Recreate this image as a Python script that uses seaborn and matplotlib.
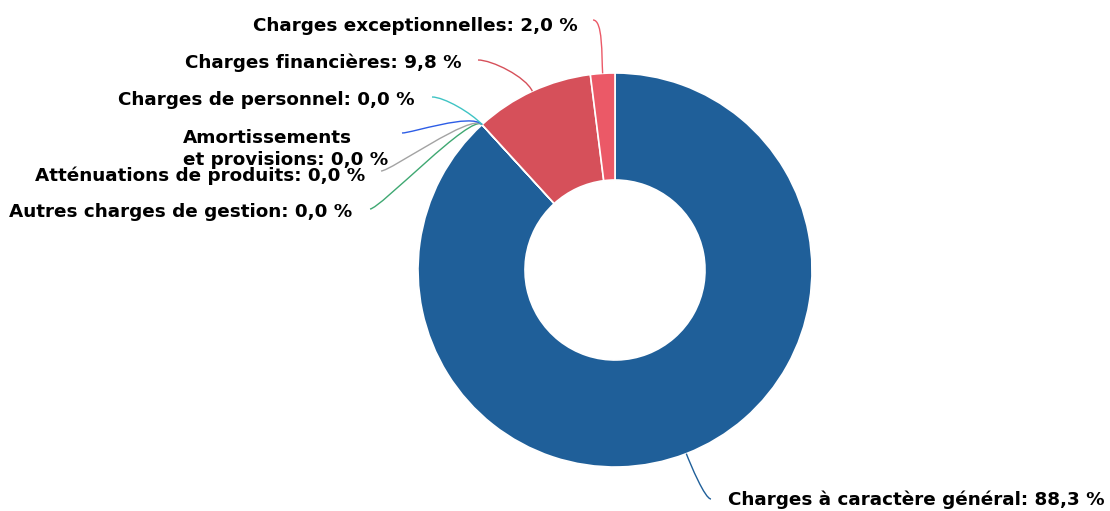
import numpy as np
import matplotlib
matplotlib.use("Agg")
import matplotlib.pyplot as plt
from matplotlib.path import Path
from matplotlib.patches import PathPatch
import seaborn as sns

sns.set_theme(style="white")
plt.rcParams['font.family'] = ['DejaVu Sans']

# ---- data ----
categories = [
    "Charges à caractère général",
    "Autres charges de gestion",
    "Atténuations de produits",
    "Amortissements\net provisions",
    "Charges de personnel",
    "Charges financières",
    "Charges exceptionnelles",
]
values = [88.3, 0.0, 0.0, 0.0, 0.0, 9.8, 2.0]
colors = ["#1f5f99", "#3fa872", "#a3a3a3", "#2d5de6", "#3fc4c4", "#d6505a", "#eb5967"]

# ---- layout (pixel coordinates, y measured from top) ----
W, H = 1110, 511
CX, CY = 615, 270
R_OUT, R_IN = 197, 90
label_pos = [(728, 500), (352, 212), (365, 176), (183, 149), (415, 100), (462, 63), (578, 26)]
label_ha = ["left", "right", "right", "left", "right", "right", "right"]
anchor_pos = [(711, 499), (370, 209), (381, 171), (402, 133), (432, 97), (478, 60), (593, 20)]
handle_out = [12, 16, 16, 16, 16, 16, 18]
handle_in = [6, 10, 10, 10, 12, 14, 10]

fig = plt.figure(figsize=(W / 100, H / 100), dpi=100)
ax = fig.add_axes([0, 0, 1, 1])

ax.pie(values, colors=colors, startangle=90, counterclock=False,
       radius=R_OUT, center=(CX, H - CY),
       wedgeprops=dict(width=R_OUT - R_IN, edgecolor="white", linewidth=1.2))
ax.set_xlim(0, W)
ax.set_ylim(0, H)
ax.set_aspect("equal")
ax.axis("off")

total = sum(values)
cum = np.cumsum([0] + values)
for i, (cat, v) in enumerate(zip(categories, values)):
    mid = (cum[i] + v / 2) / total * 2 * np.pi  # clockwise from top
    dx, dy = np.sin(mid), np.cos(mid)
    p0 = (CX + R_OUT * dx, H - CY + R_OUT * dy)
    p1 = (p0[0] + handle_out[i] * dx, p0[1] + handle_out[i] * dy)
    ax_, ay_ = anchor_pos[i]
    p3 = (ax_, H - ay_)
    sgn = 1 if p0[0] > p3[0] else -1
    p2 = (p3[0] + sgn * handle_in[i], p3[1])
    path = Path([p0, p1, p2, p3], [Path.MOVETO, Path.CURVE4, Path.CURVE4, Path.CURVE4])
    ax.add_patch(PathPatch(path, facecolor="none", edgecolor=colors[i], lw=1.0))
    lx, ly = label_pos[i]
    txt = f"{cat}: {v:.1f} %".replace(".", ",")
    ax.text(lx, H - ly, txt, ha=label_ha[i], va="center", fontsize=13.2,
            fontweight="bold", color="#000000", linespacing=1.26,
            multialignment="left")

fig.savefig("out.png", dpi=100)
